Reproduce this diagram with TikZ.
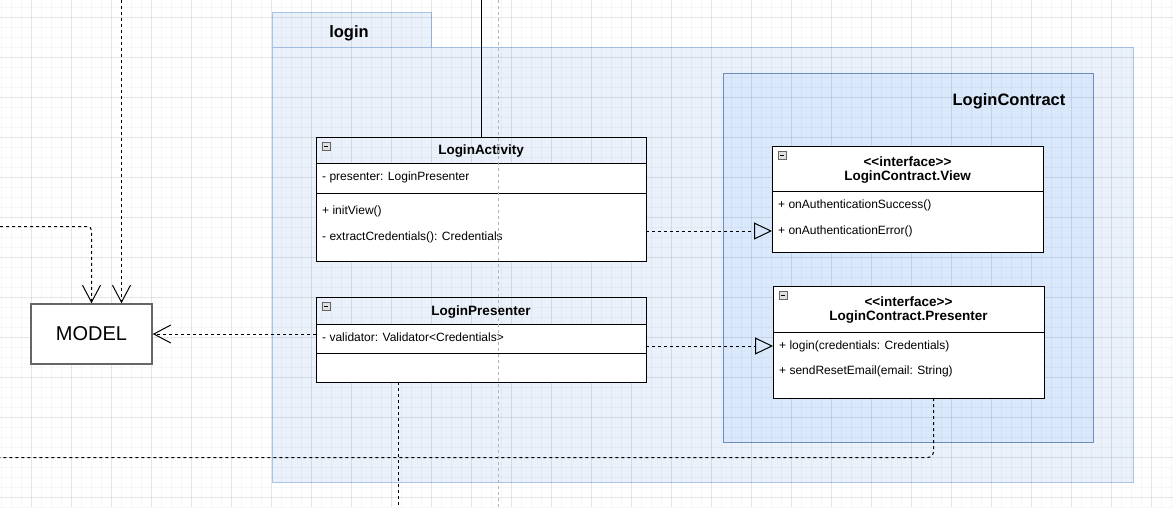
\documentclass[tikz,border=0pt]{standalone}
\usepackage{fontspec}
\setmainfont{Liberation Sans}
\usetikzlibrary{arrows.meta,calc,positioning}

\definecolor{pkgfill}{HTML}{EAF1FB}
\definecolor{pkgborder}{HTML}{A9C4EB}
\definecolor{ctfill}{HTML}{DAE8FC}
\definecolor{ctborder}{HTML}{6C8EBF}

\tikzset{
  gridminor/.style={black,opacity=0.03,line width=0.8pt},
  gridmajor/.style={black,opacity=0.065,line width=0.8pt},
  pkg/.style={draw=pkgborder,fill=pkgfill,line width=0.9pt},
  contract/.style={draw=ctborder,fill=ctfill,line width=0.9pt},
  pkgtitle/.style={font=\fontsize{16.5}{18}\selectfont\bfseries,inner sep=0pt},
  classhead/.style={draw=black,line width=0.9pt,inner sep=0pt,outer sep=0pt,anchor=north west,
    align=center,text depth=0pt,font=\fontsize{13.5}{14}\selectfont\bfseries},
  classbody/.style={draw=black,fill=white,line width=0.9pt,inner sep=0pt,outer sep=0pt},
  member/.style={font=\fontsize{12}{13}\selectfont,anchor=west,inner sep=0pt},
  collapse/.style={draw=black!60,fill=black!12,line width=0.6pt},
  modelbox/.style={draw=black!60,fill=white,line width=1.5pt,minimum width=121pt,minimum height=60pt,
    font=\fontsize{20}{22}\selectfont},
  dep/.style={line width=1pt,dash pattern=on 3pt off 3pt},
  realize/.style={dep,-{Triangle[open,length=18pt,width=17pt]}},
  uses/.style={dep,-{Straight Barb[length=17pt,width=18pt]}},
  guide/.style={black!30,line width=0.7pt,dash pattern=on 3pt off 3pt}
}

\begin{document}
\begin{tikzpicture}[x=1pt,y=-1pt]
\useasboundingbox (0,0) rectangle (1173,507);
\fill[white] (0,0) rectangle (1173,507);

% package login and LoginContract
\draw[pkg] (272,12) rectangle (431,47);
\draw[pkg] (272,47) rectangle (1133,482);
\draw[contract] (723,73) rectangle (1093,442);

% grid
\foreach \x in {1,11,...,1171} \draw[gridminor] (\x,0) -- (\x,507);
\foreach \y in {7,17,...,507} \draw[gridminor] (0,\y) -- (1173,\y);
\foreach \x in {31,71,...,1171} \draw[gridmajor] (\x,0) -- (\x,507);
\foreach \y in {17,57,...,497} \draw[gridmajor] (0,\y) -- (1173,\y);

\node[pkgtitle] (logintitle) at (349,33) {login};
\node[pkgtitle] (contracttitle) at (1009,101) {LoginContract};

% LoginActivity
\node[classhead,minimum width=330pt,minimum height=26pt] (activity) at (316,137) {LoginActivity};
\node[classbody,below=0pt of activity,minimum width=330pt,minimum height=98pt] (activitybody) {};
\draw[line width=0.9pt] ($(activitybody.north west)+(0,30)$) -- ($(activitybody.north east)+(0,30)$);
\node[member] (presenterfield) at ($(activitybody.north west)+(6,14)$) {- presenter: LoginPresenter};
\node[member] (initview) at ($(activitybody.north west)+(6,48)$) {+ initView()};
\node[member] (extract) at ($(activitybody.north west)+(6,74)$) {- extractCredentials(): Credentials};

% LoginPresenter
\node[classhead,minimum width=330pt,minimum height=27pt] (presenter) at (316,297) {LoginPresenter};
\node[classbody,below=0pt of presenter,minimum width=330pt,minimum height=58pt] (presenterbody) {};
\draw[line width=0.9pt] ($(presenterbody.north west)+(0,29)$) -- ($(presenterbody.north east)+(0,29)$);
\node[member] (validator) at ($(presenterbody.north west)+(6,13)$) {- validator: Validator<Credentials>};

% LoginContract.View
\node[classhead,fill=white,minimum width=271pt,minimum height=45pt] (view) at (772,146)
  {<{}<interface>{}>\\LoginContract.View};
\node[classbody,below=0pt of view,minimum width=271pt,minimum height=61pt] (viewbody) {};
\node[member] (viewok) at ($(viewbody.north west)+(6,14)$) {+ onAuthenticationSuccess()};
\node[member] (viewerr) at ($(viewbody.north west)+(6,40)$) {+ onAuthenticationError()};

% LoginContract.Presenter
\node[classhead,fill=white,minimum width=271pt,minimum height=46pt] (ipresenter) at (773,286)
  {<{}<interface>{}>\\LoginContract.Presenter};
\node[classbody,below=0pt of ipresenter,minimum width=271pt,minimum height=66pt] (ipresenterbody) {};
\node[member] (ilogin) at ($(ipresenterbody.north west)+(6,14)$) {+ login(credentials: Credentials)};
\node[member] (ireset) at ($(ipresenterbody.north west)+(6,39)$) {+ sendResetEmail(email: String)};

\foreach \c in {activity,presenter,view,ipresenter} {
  \draw[collapse] ($(\c.north west)+(6,5)$) rectangle ++(8,8);
  \draw[line width=0.6pt] ($(\c.north west)+(8,9)$) -- ++(4,0);
}

% MODEL
\node[modelbox] (model) at (91.5,334) {MODEL};

% connectors
\coordinate (topA) at (481.5,0);
\coordinate (topB) at (121.5,0);
\coordinate (leftA) at (0,226.5);
\coordinate (leftB) at (0,457.5);
\coordinate (botA) at (398.5,507);
\coordinate (cornerB) at (933.5,457.5);
\draw[line width=1pt] (topA) -- (topA |- activity.north);
\draw[realize] (activitybody.east |- viewerr) -- (viewbody.west |- viewerr);
\draw[realize] (presenterbody.east |- ilogin) -- (ipresenterbody.west |- ilogin);
\draw[uses] (presenterbody.west |- model) -- (model.east);
\draw[uses] (topB) -- (topB |- model.north);
\draw[uses,rounded corners=4pt] (leftA) -- (leftA -| model.north) -- (model.north);
\draw[dep] (presenterbody.south -| botA) -- (botA);
\draw[dep,rounded corners=6pt] (ipresenterbody.south -| cornerB) -- (cornerB) -- (leftB);
\draw[guide] (498,0) -- (498,507);
\end{tikzpicture}
\end{document}
